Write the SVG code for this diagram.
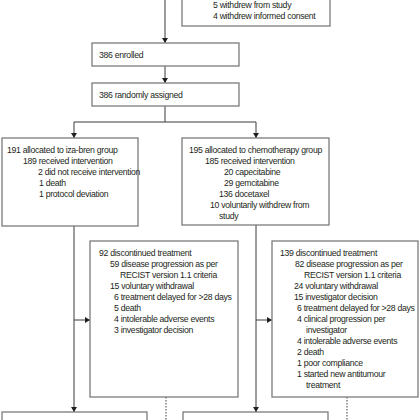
<svg xmlns="http://www.w3.org/2000/svg" width="420" height="420" viewBox="0 0 420 420">
<defs>
<style>
.box{fill:#ffffff;stroke:#7a7b7e;stroke-width:1.3}
.ln{fill:none;stroke:#3a3a3a;stroke-width:1}
.dot{fill:none;stroke:#3a3a3a;stroke-width:1;stroke-dasharray:1.5 1.5}
text{font-family:"Liberation Sans",Arial,sans-serif;font-size:8.7px;letter-spacing:-0.3px;fill:#231f20}
</style>
<marker id="ah" markerWidth="6" markerHeight="6" refX="5" refY="3" orient="auto" markerUnits="userSpaceOnUse">
<path d="M0,0 L5,3 L0,6 Z" fill="#231f20"/>
</marker>
</defs>
<rect width="420" height="420" fill="#ffffff"/>
<g id="connectors">
<path class="ln" d="M165,0 V43" marker-end="url(#ah)"/>
<path class="ln" d="M165,66 V83" marker-end="url(#ah)"/>
<path class="ln" d="M165,106 V122 M74,122 H256"/>
<path class="ln" d="M74,122 V138" marker-end="url(#ah)"/>
<path class="ln" d="M256,122 V138" marker-end="url(#ah)"/>
<path class="ln" d="M74,226 V412" marker-end="url(#ah)"/>
<path class="ln" d="M74,320 H90" marker-end="url(#ah)"/>
<path class="ln" d="M256,225 V412" marker-end="url(#ah)"/>
<path class="ln" d="M256,320 H272" marker-end="url(#ah)"/>
<path class="dot" d="M166,397 V420"/>
<path class="dot" d="M347,397 V420"/>
</g>
<g id="excluded">
<rect class="box" x="182" y="-10" width="148" height="36"/>
<text x="213" y="8">5 withdrew from study</text>
<text x="213" y="19">4 withdrew informed consent</text>
</g>
<g id="enrolled">
<rect class="box" x="92" y="43" width="147" height="23"/>
<text x="99" y="57.5">386 enrolled</text>
</g>
<g id="randomised">
<rect class="box" x="92" y="83" width="147" height="23"/>
<text x="99" y="97.5">386 randomly assigned</text>
</g>
<g id="izabren">
<rect class="box" x="2" y="138" width="136" height="88"/>
<text x="7" y="153">191 allocated to iza-bren group</text>
<text x="23" y="164">189 received intervention</text>
<text x="38" y="175">2 did not receive intervention</text>
<text x="39" y="186">1 death</text>
<text x="39" y="197">1 protocol deviation</text>
</g>
<g id="chemo">
<rect class="box" x="182" y="138" width="147" height="87"/>
<text x="189" y="153">195 allocated to chemotherapy group</text>
<text x="205" y="164">185 received intervention</text>
<text x="224" y="175">20 capecitabine</text>
<text x="224" y="186">29 gemcitabine</text>
<text x="219" y="197">136 docetaxel</text>
<text x="210" y="208">10 voluntarily withdrew from</text>
<text x="219" y="219">study</text>
</g>
<g id="disc-izabren">
<rect class="box" x="90" y="241" width="148" height="156"/>
<text x="99" y="256">92 discontinued treatment</text>
<text x="110" y="267">59 disease progression as per</text>
<text x="120" y="278">RECIST version 1.1 criteria</text>
<text x="110" y="289">15 voluntary withdrawal</text>
<text x="114" y="300">6 treatment delayed for &gt;28 days</text>
<text x="114" y="311">5 death</text>
<text x="114" y="322">4 intolerable adverse events</text>
<text x="114" y="333">3 investigator decision</text>
</g>
<g id="disc-chemo">
<rect class="box" x="272" y="241" width="146" height="156"/>
<text x="280" y="256">139 discontinued treatment</text>
<text x="295" y="267">82 disease progression as per</text>
<text x="304" y="278">RECIST version 1.1 criteria</text>
<text x="294" y="289">24 voluntary withdrawal</text>
<text x="294" y="300">15 investigator decision</text>
<text x="297" y="311">6 treatment delayed for &gt;28 days</text>
<text x="297" y="322">4 clinical progression per</text>
<text x="306" y="333">investigator</text>
<text x="297" y="344">4 intolerable adverse events</text>
<text x="297" y="355">2 death</text>
<text x="297" y="366">1 poor compliance</text>
<text x="297" y="377">1 started new antitumour</text>
<text x="306" y="388">treatment</text>
</g>
<g id="bottom-left">
<rect class="box" x="2" y="412" width="145" height="20"/>
</g>
<g id="bottom-right">
<rect class="box" x="183" y="412" width="145" height="20"/>
</g>
</svg>
